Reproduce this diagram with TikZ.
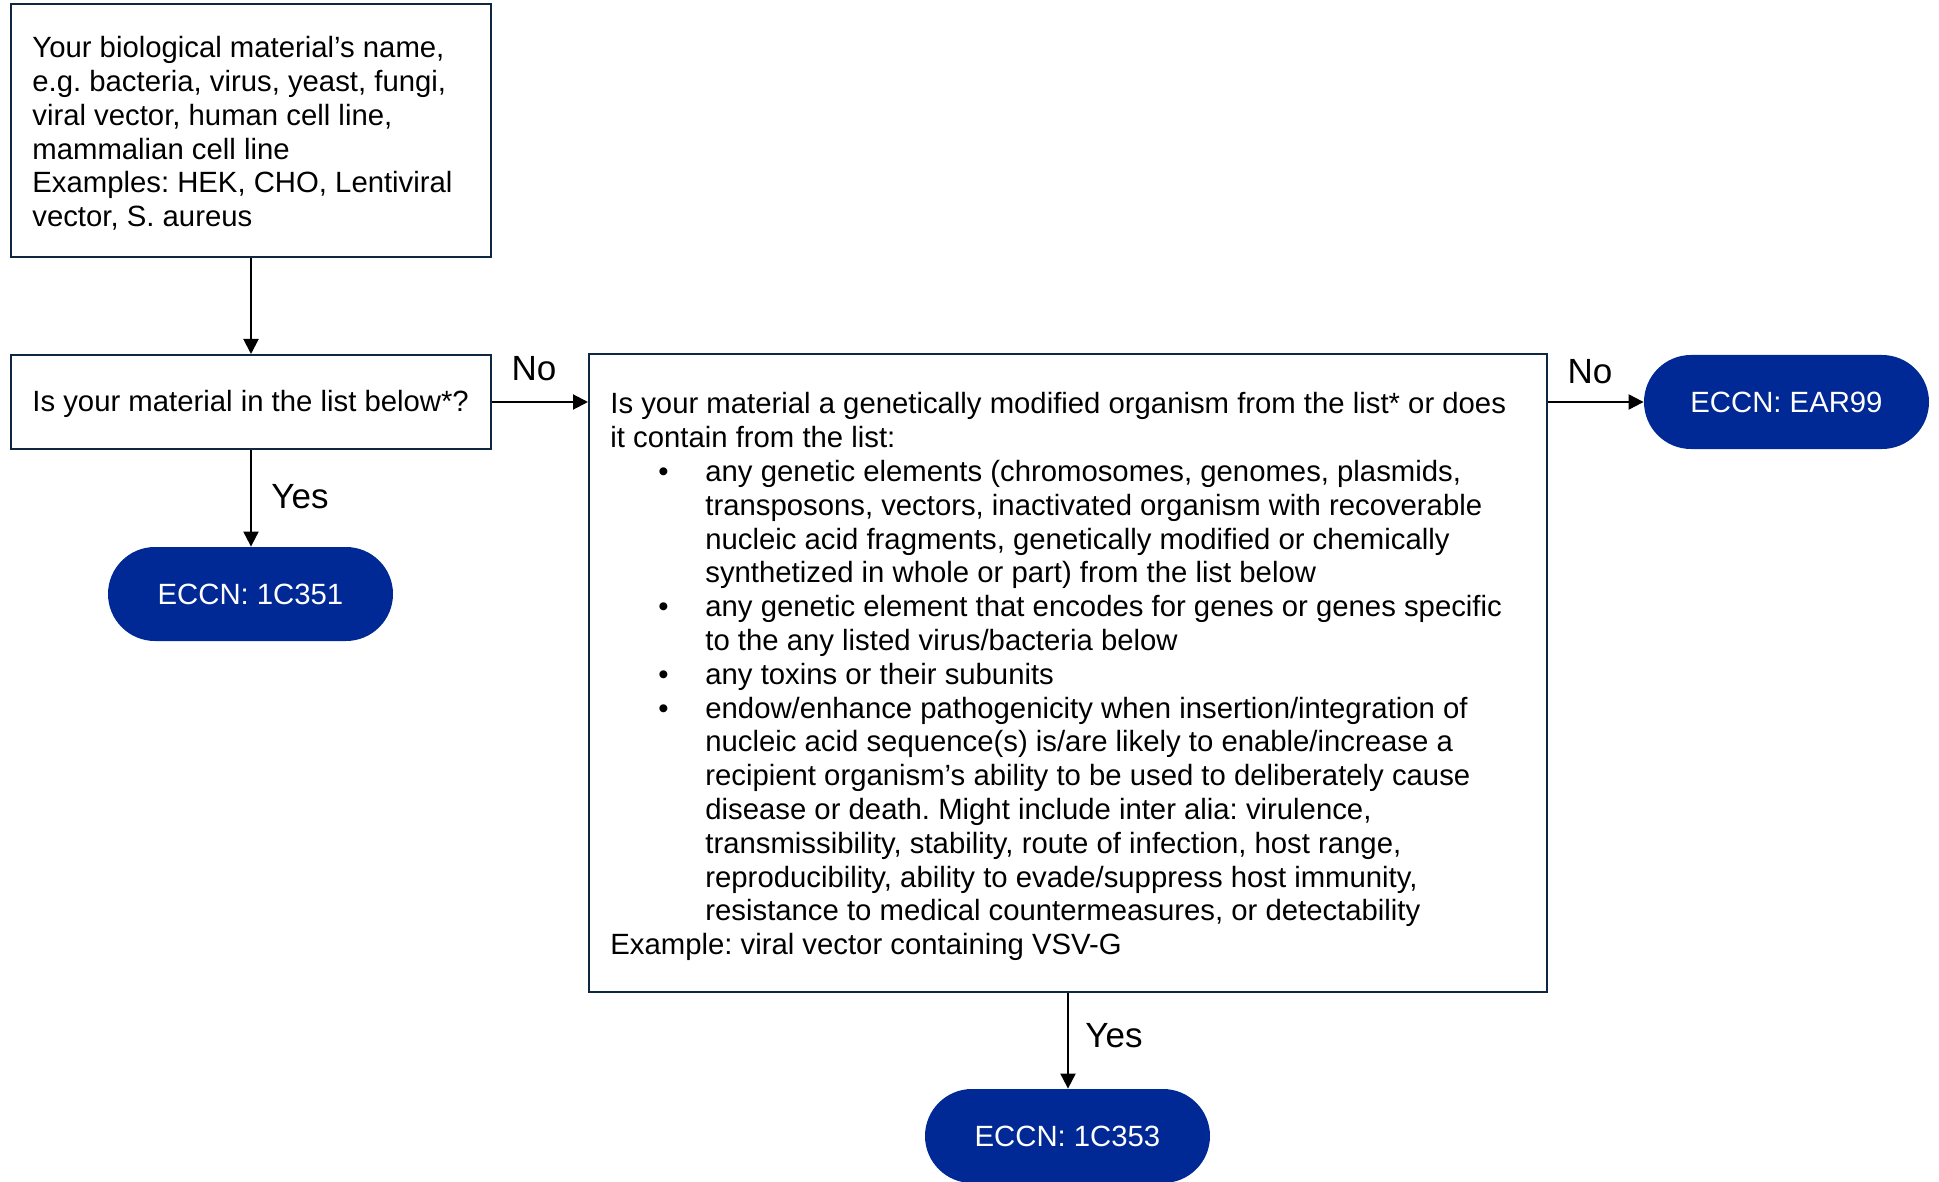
\documentclass[tikz,border=0pt]{standalone}
\usepackage{fontspec}
\setmainfont{Liberation Sans}
\usetikzlibrary{arrows.meta}
\definecolor{boxline}{RGB}{14,40,65}
\definecolor{pillblue}{RGB}{0,41,150}
\frenchspacing
\begin{document}
\begin{tikzpicture}[x=0.5pt,y=-0.5pt,
  every node/.style={font=\fontsize{14.65}{16.9}\selectfont},
  box/.style={draw=boxline,line width=1pt,inner sep=0pt},
  txt/.style={inner sep=0pt,align=left,anchor=west},
  pill/.style={fill=pillblue,draw=none,text=white,rounded corners=23.5pt,minimum width=142.5pt,minimum height=47pt},
  conn/.style={draw=black,line width=1pt,-{Triangle[length=7.5pt,width=7.5pt]}},
  lbl/.style={font=\fontsize{17.5}{20}\selectfont}]
\useasboundingbox (0,0) rectangle (1939,1182);

% boxes
\node[box,minimum width=240pt,minimum height=126.5pt] (b1) at (251,130.5) {};
\node[box,minimum width=240pt,minimum height=47pt] (b2) at (251,402) {};
\node[box,minimum width=479pt,minimum height=319pt] (big) at (1068,673) {};

% texts
\node[txt] (b1t) at (32,133.5)
{Your biological material’s name,\\
e.g. bacteria, virus, yeast, fungi,\\
viral vector, human cell line,\\
mammalian cell line\\
Examples: HEK, CHO, Lentiviral\\
vector, S. aureus};

\node[txt] (b2t) at (32,404) {Is your material in the list below*?};

\node[txt] (bigt) at (610,676.7)
{Is your material a genetically modified organism from the list* or does\\
it contain from the list:\\
\hspace*{24pt}\makebox[23.5pt][l]{•}any genetic elements (chromosomes, genomes, plasmids,\\
\hspace*{47.5pt}transposons, vectors, inactivated organism with recoverable\\
\hspace*{47.5pt}nucleic acid fragments, genetically modified or chemically\\
\hspace*{47.5pt}synthetized in whole or part) from the list below\\
\hspace*{24pt}\makebox[23.5pt][l]{•}any genetic element that encodes for genes or genes specific\\
\hspace*{47.5pt}to the any listed virus/bacteria below\\
\hspace*{24pt}\makebox[23.5pt][l]{•}any toxins or their subunits\\
\hspace*{24pt}\makebox[23.5pt][l]{•}endow/enhance pathogenicity when insertion/integration of\\
\hspace*{47.5pt}nucleic acid sequence(s) is/are likely to enable/increase a\\
\hspace*{47.5pt}recipient organism’s ability to be used to deliberately cause\\
\hspace*{47.5pt}disease or death. Might include inter alia: virulence,\\
\hspace*{47.5pt}transmissibility, stability, route of infection, host range,\\
\hspace*{47.5pt}reproducibility, ability to evade/suppress host immunity,\\
\hspace*{47.5pt}resistance to medical countermeasures, or detectability\\
Example: viral vector containing VSV-G};

% terminals
\node[pill] (c351) at (250.5,594) {ECCN: 1C351};
\node[pill] (ear) at (1786.5,402) {ECCN: EAR99};
\node[pill] (c353) at (1067.5,1136) {ECCN: 1C353};

% connectors
\draw[conn] (b1.south) -- (b2.north);
\draw[conn] (b2.east) -- (b2.east -| big.west);
\draw[conn] (b2.south) -- (b2.south |- c351.north);
\draw[conn] (big.east |- ear.west) -- (ear.west);
\draw[conn] (big.south) -- (big.south |- c353.north);

% labels
\node[lbl] (no1) at (534,369) {No};
\node[lbl] (no2) at (1590,372) {No};
\node[lbl] (yes1) at (300,497) {Yes};
\node[lbl] (yes2) at (1114,1036) {Yes};
\end{tikzpicture}
\end{document}
